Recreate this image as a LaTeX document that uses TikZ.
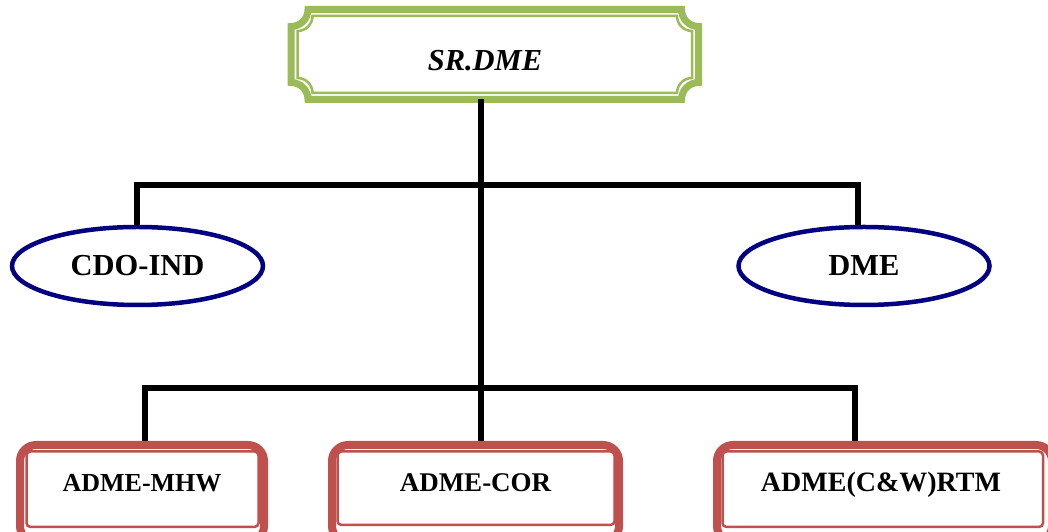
\documentclass[tikz,border=0pt]{standalone}
\usepackage{fontspec}
\setmainfont{Liberation Serif}
\usetikzlibrary{shapes.geometric}
\definecolor{pgreen}{HTML}{9BBB59}
\definecolor{pred}{HTML}{C0504D}
\definecolor{pnavy}{HTML}{000080}
\begin{document}
\begin{tikzpicture}[x=1pt,y=1pt,
  conn/.style={line width=6pt, black, line join=miter},
  ell/.style={ellipse, draw=pnavy, line width=4.5pt, minimum width=251pt, minimum height=78pt, inner sep=0pt, font=\bfseries\fontsize{30.5}{36}\selectfont},
  obox/.style={draw=pred, line width=8pt, rounded corners=16pt, minimum height=97pt, inner sep=0pt},
  ibox/.style={draw=pred, line width=2.5pt, rounded corners=4pt},
  btxt/.style={inner sep=0pt, font=\bfseries\fontsize{#1}{32}\selectfont},
  ttxt/.style={inner sep=0pt, font=\bfseries\itshape\fontsize{30.5}{36}\selectfont}
]
\useasboundingbox (0,0) rectangle (1048,532);
\clip (0,0) rectangle (1048,532);
\fill[white] (0,0) rectangle (1048,532);

% top plaque box
\draw[pgreen, line width=7pt] (308,432.5) -- (681.5,432.5) arc[start angle=180,end angle=90,radius=17]
  -- (698.5,505.5) arc[start angle=270,end angle=180,radius=17]
  -- (308,522.5) arc[start angle=0,end angle=-90,radius=17]
  -- (291,449.5) arc[start angle=90,end angle=0,radius=17] -- cycle;
\draw[pgreen, line width=2.5pt] (312.5,439) -- (677,439) arc[start angle=180,end angle=90,radius=15]
  -- (692,501) arc[start angle=270,end angle=180,radius=15]
  -- (312.5,516) arc[start angle=0,end angle=-90,radius=15]
  -- (297.5,454) arc[start angle=90,end angle=0,radius=15] -- cycle;
\node[ttxt] (top) at (485,471) {SR.DME};
\coordinate (tt) at (481,433);

% ellipses
\node[ell] (cdo) at (137.5,266) {CDO-IND};
\node[ell] (dme) at (864,266) {DME};

% bottom boxes
\node[obox, minimum width=244pt] (b1) at (142,38.5) {};
\node[obox, minimum width=287pt] (b2) at (475.5,38.5) {};
\node[obox, minimum width=335pt] (b3) at (884.5,38.5) {};
\draw[ibox] (26.5,5) rectangle (258.5,80.5);
\draw[ibox] (337.5,7) rectangle (614.5,80.5);
\draw[ibox] (722.5,5) rectangle (1043,80.5);
\node[btxt=26] (b1t) at (142,49) {ADME-MHW};
\node[btxt=27] (b2t) at (475.5,49) {ADME-COR};
\node[btxt=28] (b3t) at (881,47) {ADME(C\&W)RTM};

% connectors
\coordinate (bus1) at (481,347);
\coordinate (e1) at (136.5,347);
\coordinate (e2) at (857.5,347);
\coordinate (d1) at (144.5,144);
\coordinate (d3) at (855,144);
\draw[conn] (tt) -- (tt |- b2.north);
\draw[conn] (e1 |- cdo.north) -- (e1) -- (e2) -- (e2 |- dme.north);
\draw[conn] (d1 |- b1.north) -- (d1) -- (d3) -- (d3 |- b3.north);
\end{tikzpicture}
\end{document}
